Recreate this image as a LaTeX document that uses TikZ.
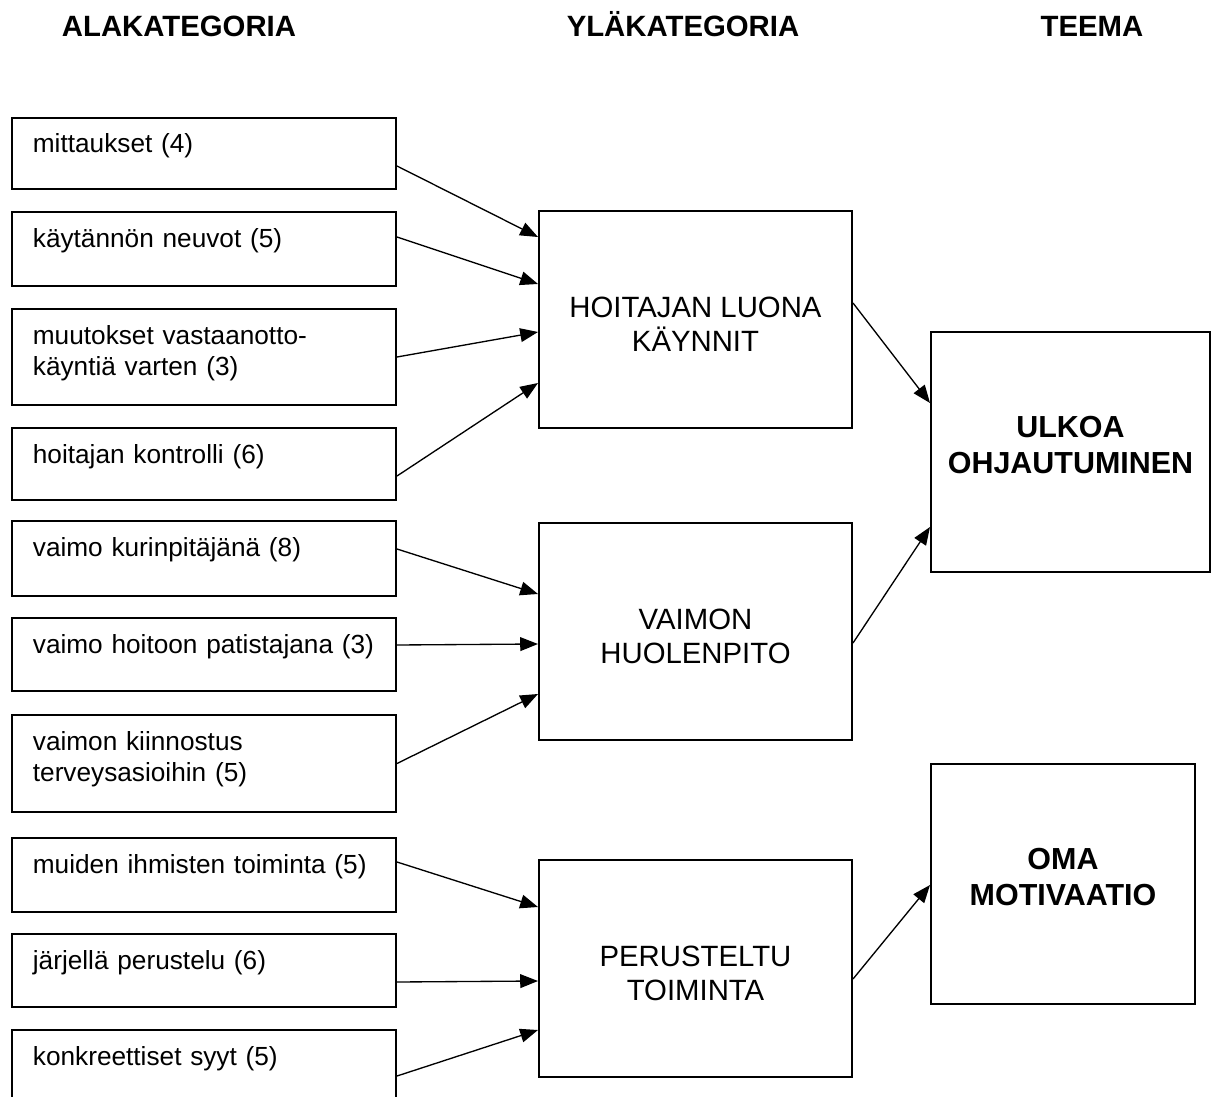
\documentclass[tikz,border=0pt]{standalone}
\usepackage{fontspec}
\setmainfont{Liberation Sans}
\usetikzlibrary{arrows.meta, calc}

\begin{document}
\begin{tikzpicture}[x=0.45pt, y=-0.45pt,
    ala/.style={draw, line width=0.9pt, anchor=north west, inner xsep=9.4pt, inner ysep=0pt,
        text width=154pt, align=left, text height=15.75pt, font=\fontsize{11.8}{14}\selectfont},
    yla/.style={draw, line width=0.9pt, minimum width=140.85pt, minimum height=97.65pt,
        align=center, text height=30pt, text depth=0.8pt, font=\fontsize{13.2}{15.3}\selectfont},
    teema/.style={draw, line width=0.9pt, minimum height=108pt, align=center,
        text height=20pt, text depth=1.1pt, font=\bfseries\fontsize{13.7}{16.2}\selectfont},
    otsikko/.style={anchor=base, font=\bfseries\fontsize{13.2}{15}\selectfont},
    nuoli/.style={line width=0.6pt, -{Triangle[length=8pt, width=6.2pt]}}]
    \clip (0,0) rectangle (1211,1097);

    \node[otsikko] (hala) at (179,37) {ALAKATEGORIA};
    \node[otsikko] (hyla) at (683,37) {YLÄKATEGORIA};
    \node[otsikko] (hteema) at (1092,37) {TEEMA};

    \node[ala, text depth=16.2pt]  (mitt)  at (11,117)  {mittaukset (4)};
    \node[ala, text depth=17.55pt] (neuv)  at (11,211)  {käytännön neuvot (5)};
    \node[ala, text depth=27.45pt] (muut)  at (11,308)  {muutokset vastaanotto-\\käyntiä varten (3)};
    \node[ala, text depth=16.65pt] (kontr) at (11,427)  {hoitajan kontrolli (6)};
    \node[ala, text depth=18pt]    (kuri)  at (11,520)  {vaimo kurinpitäjänä (8)};
    \node[ala, text depth=17.1pt]  (pati)  at (11,617)  {vaimo hoitoon patistajana (3)};
    \node[ala, text depth=27.9pt]  (kiin)  at (11,714)  {vaimon kiinnostus\\terveysasioihin (5)};
    \node[ala, text depth=17.55pt] (muid)  at (11,837)  {muiden ihmisten toiminta (5)};
    \node[ala, text depth=17.1pt]  (jarj)  at (11,933)  {järjellä perustelu (6)};
    \node[ala, text depth=20.7pt]  (konk)  at (11,1029) {konkreettiset syyt (5)};

    \node[yla] (hoit) at (695.5,319.5) {HOITAJAN LUONA\\KÄYNNIT};
    \node[yla] (vaim) at (695.5,631.5) {VAIMON\\HUOLENPITO};
    \node[yla] (peru) at (695.5,968)   {PERUSTELTU\\TOIMINTA};

    \node[teema, minimum width=125.55pt] (ulko) at (1070.5,452) {ULKOA\\OHJAUTUMINEN};
    \node[teema, minimum width=118.8pt]  (oma)  at (1063,884)   {OMA\\MOTIVAATIO};

    \draw[nuoli] ($(mitt.east)+(0,12.5)$)  -- ($(hoit.west)+(0,-82.5)$);
    \draw[nuoli] ($(neuv.east)+(0,-12)$)   -- ($(hoit.west)+(0,-35.5)$);
    \draw[nuoli] (muut.east)               -- ($(hoit.west)+(0,12.5)$);
    \draw[nuoli] ($(kontr.east)+(0,12)$)   -- ($(hoit.west)+(0,63.5)$);
    \draw[nuoli] ($(kuri.east)+(0,-9.5)$)  -- ($(vaim.west)+(0,-37.5)$);
    \draw[nuoli] ($(pati.east)+(0,-9.5)$)  -- ($(vaim.west)+(0,12.5)$);
    \draw[nuoli] (kiin.east)               -- ($(vaim.west)+(0,62.5)$);
    \draw[nuoli] ($(muid.east)+(0,-13)$)   -- ($(peru.west)+(0,-61)$);
    \draw[nuoli] ($(jarj.east)+(0,11.5)$)  -- ($(peru.west)+(0,13)$);
    \draw[nuoli] ($(konk.east)+(0,5.5)$)   -- ($(peru.west)+(0,62)$);

    \draw[nuoli] ($(hoit.east)+(0,-16.5)$) -- ($(ulko.west)+(0,-49)$);
    \draw[nuoli] ($(vaim.east)+(0,11.5)$)  -- ($(ulko.west)+(0,75)$);
    \draw[nuoli] ($(peru.east)+(0,11)$)    -- ($(oma.west)+(0,1)$);
\end{tikzpicture}
\end{document}
